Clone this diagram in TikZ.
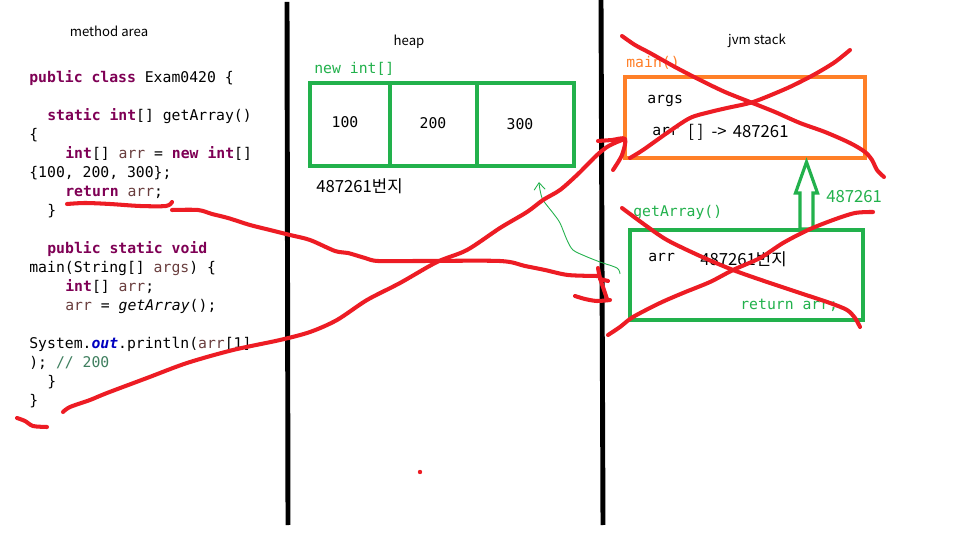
\documentclass[tikz,border=0pt]{standalone}
\usepackage{fontspec}
\setmainfont{Noto Sans CJK KR}
\setmonofont{DejaVu Sans Mono}
\usetikzlibrary{arrows.meta,calc}
\definecolor{paintgreen}{HTML}{22B14C}
\definecolor{paintorange}{HTML}{FF7F27}
\definecolor{paintred}{HTML}{ED1C24}
\definecolor{javakeyword}{HTML}{7F0055}
\definecolor{javalocal}{HTML}{6A3E3E}
\definecolor{javafield}{HTML}{0000C0}
\definecolor{javacomment}{HTML}{3F7F5F}
\newcommand{\kw}[1]{\textcolor{javakeyword}{\textbf{#1}}}
\newcommand{\lv}[1]{\textcolor{javalocal}{#1}}
\tikzset{
  area title/.style={font=\fontsize{7.5}{9}\selectfont, anchor=base, inner sep=0pt},
  code line/.style={font=\ttfamily\fontsize{8.4}{10}\selectfont, anchor=base west, inner sep=0pt},
  code tag/.style={code line, text=paintgreen},
  memory cell/.style={
    rectangle, draw=paintgreen, line width=2.8pt,
    minimum height=1.66cm, inner sep=0pt,
    font=\ttfamily\fontsize{8.4}{10}\selectfont
  },
  frame box/.style={rectangle, line width=2.8pt, inner sep=0pt},
  address/.style={font=\fontsize{9.5}{11}\selectfont, anchor=base west, inner sep=0pt},
  divider/.style={line width=2.8pt, black},
  scribble/.style={draw=paintred, line width=2.3pt, line cap=round, line join=round},
  trace arrow/.style={
    draw=paintgreen, line width=0.5pt,
    -{Straight Barb[length=1.4mm,width=2.2mm]}
  },
  lift arrow/.style={draw=paintgreen, fill=white, line width=1.8pt}
}

\begin{document}
\begin{tikzpicture}[x=0.02cm,y=-0.02cm]
  \fill[white] (0,0) rectangle (960,540);
  \useasboundingbox (0,0) rectangle (960,540);

  % the three memory areas
  \draw[divider] (287,2) -- (288,525);
  \draw[divider] (601,0) -- (603,525);
  \node[area title] (methodtitle) at (109,37) {method area};
  \node[area title] (heaptitle) at (409,46) {heap};
  \node[area title] (stacktitle) at (757,45) {jvm stack};

  % source code kept in the method area
  \node[code line] (code1) at (29,82.5) {\kw{public} \kw{class} Exam0420 \{};
  \node[code line] (code2) at (47,120.5) {\kw{static} \kw{int}[] getArray()};
  \node[code line] (code3) at (29,139.5) {\{};
  \node[code line] (code4) at (65,158.5) {\kw{int}[] \lv{arr} = \kw{new} \kw{int}[]};
  \node[code line] (code5) at (29,177.5) {\{100, 200, 300\};};
  \node[code line] (code6) at (65,196.5) {\kw{return} \lv{arr};};
  \node[code line] (code7) at (47,215.5) {\}};
  \node[code line] (code8) at (47,253.5) {\kw{public} \kw{static} \kw{void}};
  \node[code line] (code9) at (29,272.5) {main(String[] \lv{args}) \{};
  \node[code line] (code10) at (65,291.5) {\kw{int}[] \lv{arr};};
  \node[code line] (code11) at (65,310.5) {\lv{arr} = \textit{getArray}();};
  \node[code line] (code12) at (29,348.5) {System.\textcolor{javafield}{\textbf{\textit{out}}}.println(\lv{arr}[1]};
  \node[code line] (code13) at (29,367.5) {); \textcolor{javacomment}{// 200}};
  \node[code line] (code14) at (47,386.5) {\}};
  \node[code line] (code15) at (29,405.5) {\}};

  % the array object on the heap
  \node[code tag] (newtag) at (314,74) {new int[]};
  \node[memory cell,minimum width=1.6cm] (cell100) at (350,124.5) {};
  \node[memory cell,minimum width=1.74cm] (cell200) at (433.5,124.5) {};
  \node[memory cell,minimum width=1.94cm] (cell300) at (525.5,124.5) {};
  \node[code line,anchor=base] (value100) at (345,128) {100};
  \node[code line,anchor=base] (value200) at (433,129) {200};
  \node[code line,anchor=base] (value300) at (520,130) {300};
  \node[address] (heapaddr) at (316,193) {487261번지};

  % stack frames
  \node[frame box,draw=paintorange,line width=2.3pt,minimum width=4.8cm,minimum height=1.62cm] (mainframe) at (745,117.5) {};
  \node[frame box,draw=paintgreen,minimum width=4.66cm,minimum height=1.8cm] (getarrayframe) at (746.5,275) {};
  \node[code line,text=paintorange] (maintag) at (626,68) {main()};
  \node[code line] (mainargs) at (647,104) {args};
  \node[code line] (mainarr) at (652,136) {arr};
  \node[address] (mainref) at (688,138) {[ ]\hspace{2.5pt} ->\hspace{1.5pt} 487261};
  \node[code tag] (getarraytag) at (633,217) {getArray()};
  \node[code line] (localarr) at (648,262) {arr};
  \node[address] (localref) at (700,266) {487261번지};
  \node[code tag] (returntag) at (740,310) {return arr;};

  % returned address lifted into main()
  \coordinate (liftfoot) at (806.5,229);
  \coordinate (lifttip) at (806.5,162);
  \draw[lift arrow] (liftfoot) ++(-6.5,0) -- ++(0,-36) -- ++(-4.5,0) -- (lifttip)
    -- ++(11,31) -- ++(-4.5,0) -- ++(0,36) -- cycle;
  \node[address,text=paintgreen] (liftvalue) at (826,203) {487261};

  % thin pointer back to the array
  \coordinate (tracestart) at (620,274);
  \draw[trace arrow] plot[smooth,tension=0.5] coordinates {(tracestart) (617,268) (600,262) (585,256) (573,250) (567,240) (560,223) (553,213) (543,200) (540,190) (539,182)};

  % red pen strokes over everything
  \draw[scribble] plot[smooth,tension=0.5] coordinates {(67,204) (85,203) (110,204) (140,206) (166,206) (172,202)};
  \draw[scribble] plot[smooth,tension=0.5] coordinates {(172,210) (198,210) (212,214) (228,218) (250,225) (270,230) (290,235) (310,240) (335,251) (348,253) (365,258) (378,261) (420,261) (500,261) (525,266) (545,270) (568,275) (598,276)};
  \draw[scribble] plot[smooth,tension=0.5] coordinates {(598,268) (600,278) (604,290) (607,299)};
  \draw[scribble] plot[smooth,tension=0.5] coordinates {(575,296) (585,299) (597,301) (610,300)};
  \draw[scribble] (600,279) -- (608,281);

  \coordinate (mainentry) at (625,139);
  \draw[scribble] plot[smooth,tension=0.5] coordinates {(63,412) (70,407) (90,400) (107,393) (147,378) (187,363) (233,350) (280,340) (310,332) (337,320) (367,300) (400,283) (437,262) (467,250) (500,228) (527,212) (543,200) (560,190) (577,175) (587,165) (597,155) (607,147) (617,142) (mainentry)};
  \draw[scribble] plot[smooth,tension=0.5] coordinates {(598,141) (612,140) (mainentry) (622,155) (613,170)};
  \draw[scribble] plot[smooth,tension=0.5] coordinates {(17,418) (25,421) (33,426) (47,427)};

  % main() frame crossed out
  \draw[scribble] plot[smooth,tension=0.5] coordinates {(622,36) (635,45) (650,53) (675,67) (700,80) (725,92) (750,102) (775,112) (800,123) (825,132) (850,143) (865,152) (872,160) (877,170) (884,177)};
  \draw[scribble] plot[smooth,tension=0.5] coordinates {(630,158) (643,150) (667,133) (690,118) (710,112) (727,108) (753,102) (783,90) (800,82) (817,73) (835,62) (850,50)};

  % getArray() frame crossed out
  \draw[scribble] plot[smooth,tension=0.5] coordinates {(622,208) (645,225) (667,240) (700,256) (733,270) (767,282) (800,293) (830,303) (847,310) (855,318) (860,327)};
  \draw[scribble] plot[smooth,tension=0.5] coordinates {(608,335) (620,327) (633,317) (660,303) (683,293) (710,282) (733,270) (760,258) (783,243) (808,230) (833,220) (855,213) (873,212)};

  \fill[paintred] (420,472) circle (2.2);
\end{tikzpicture}
\end{document}
